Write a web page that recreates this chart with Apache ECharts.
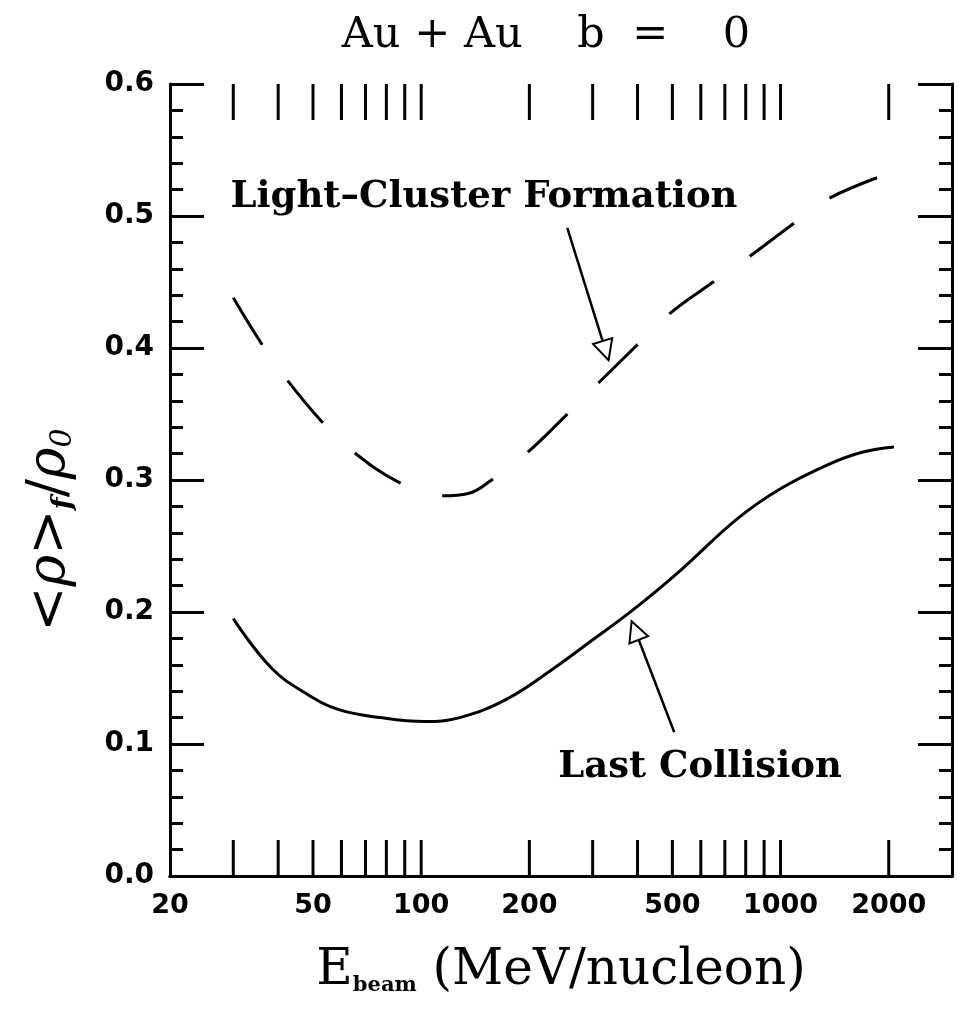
<!DOCTYPE html>
<html><head><meta charset="utf-8">
<script src="https://cdn.jsdelivr.net/npm/echarts@6/dist/echarts.min.js"></script>
<style>html,body{margin:0;padding:0;background:#fff}#c{width:966px;height:1020px}</style>
</head><body><div id="c"></div>
<script>
// ---- data ----
const energyLast = [30, 38.5, 48, 59, 77, 102, 128, 173, 233, 287, 386, 529, 753, 994, 1366, 1686, 2068];
const rhoLast    = [0.195, 0.157, 0.138, 0.126, 0.120, 0.117, 0.120, 0.134, 0.157, 0.175, 0.201, 0.232, 0.270, 0.293, 0.312, 0.321, 0.325];
const energyCluster = [30, 36, 42.3, 53, 65, 87, 113, 136, 157, 196, 253, 310, 398, 486, 642, 817, 1071, 1335, 1856];
const rhoCluster    = [0.438, 0.403, 0.376, 0.344, 0.321, 0.298, 0.288, 0.290, 0.300, 0.320, 0.349, 0.373, 0.402, 0.425, 0.449, 0.469, 0.493, 0.512, 0.529];
const xTickValues  = [30, 40, 50, 60, 70, 80, 90, 100, 200, 300, 400, 500, 600, 700, 800, 900, 1000, 2000];
const xLabelValues = [20, 50, 100, 200, 500, 1000, 2000];
const xMin = 20, xMax = 3000;
const yMin = 0, yMax = 0.6, yInterval = 0.1;
const titleText = 'Au + Au    b  =    0';
const labelCluster = 'Light\u2013Cluster Formation';
const labelLast = 'Last Collision';
// arrow annotations (data coordinates: [start, head])
const arrowCluster = [[255, 0.491], [326, 0.398]];
const arrowLast = [[506, 0.109], [394, 0.186]];

const chart = echarts.init(document.getElementById('c'), null, {renderer: 'canvas'});
const black = '#000';
const sansBold = '"DejaVu Sans", sans-serif';
const serif = '"DejaVu Serif", serif';

function arrowLine(pts) {
  return {
    silent: true, animation: false,
    symbol: ['none', 'emptyTriangle'], symbolSize: 20,
    lineStyle: {color: black, width: 2.5, type: 'solid'},
    label: {show: false},
    emphasis: {disabled: true},
    data: [[{coord: pts[0]}, {coord: pts[1]}]]
  };
}

const option = {
  backgroundColor: '#fff',
  animation: false,
  grid: {left: 170, right: 14, top: 84, bottom: 144},
  xAxis: [{
    type: 'log', min: xMin, max: xMax, position: 'bottom',
    axisLine: {show: true, lineStyle: {color: black, width: 3}},
    axisTick: {show: false}, axisLabel: {show: false}, splitLine: {show: false},
    name: '{n|E}{s|beam}{n| (MeV/nucleon)}', nameLocation: 'middle', nameGap: 60,
    nameTextStyle: {
      rich: {
        n: {fontFamily: serif, fontSize: 50, color: black, lineHeight: 60, verticalAlign: 'bottom'},
        s: {fontFamily: serif, fontWeight: 'bold', fontSize: 21, color: black, lineHeight: 20, verticalAlign: 'bottom'}
      }
    }
  }, {
    type: 'log', min: xMin, max: xMax, position: 'top',
    axisLine: {show: true, lineStyle: {color: black, width: 3}},
    axisTick: {show: false}, axisLabel: {show: false}, splitLine: {show: false}
  }],
  yAxis: [{
    type: 'value', min: yMin, max: yMax, interval: yInterval, position: 'left',
    axisLine: {show: true, lineStyle: {color: black, width: 3}},
    axisTick: {show: true, inside: true, length: 34, lineStyle: {color: black, width: 3}},
    minorTick: {show: true, splitNumber: 5, length: 13, lineStyle: {color: black, width: 3}},
    axisLabel: {show: true, margin: 16, color: black, fontFamily: sansBold, fontWeight: 'bold', fontSize: 28,
      formatter: v => v.toFixed(1)},
    splitLine: {show: false}
  }, {
    type: 'value', min: yMin, max: yMax, interval: yInterval, position: 'right',
    axisLine: {show: true, lineStyle: {color: black, width: 3}},
    axisTick: {show: true, inside: true, length: 34, lineStyle: {color: black, width: 3}},
    minorTick: {show: true, splitNumber: 5, length: 13, lineStyle: {color: black, width: 3}},
    axisLabel: {show: false}, splitLine: {show: false}
  }],
  graphic: [
    {type: 'text', x: 546, y: 36, style: {text: titleText, font: '43px ' + serif, fill: black, align: 'center', verticalAlign: 'middle'}},
    {type: 'text', x: 484, y: 197, style: {text: labelCluster, font: 'bold 37px ' + serif, fill: black, align: 'center', verticalAlign: 'middle'}},
    {type: 'text', x: 700, y: 767, style: {text: labelLast, font: 'bold 37px ' + serif, fill: black, align: 'center', verticalAlign: 'middle'}},
    {type: 'text', x: 46, y: 530, rotation: Math.PI / 2,
      style: {
        text: '{n|<}{i|\u03c1}{n|>}{f|f}{n|/}{i|\u03c1}{s|0}', align: 'center', verticalAlign: 'middle',
        rich: {
          n: {fontFamily: serif, fontSize: 54, fill: black, lineHeight: 64, verticalAlign: 'bottom'},
          i: {fontFamily: serif, fontStyle: 'italic', fontSize: 54, fill: black, lineHeight: 64, verticalAlign: 'bottom'},
          f: {fontFamily: serif, fontStyle: 'italic', fontWeight: 'bold', fontSize: 28, fill: black, lineHeight: 24, verticalAlign: 'bottom'},
          s: {fontFamily: serif, fontStyle: 'italic', fontSize: 30, fill: black, lineHeight: 24, verticalAlign: 'bottom'}
        }
      }}
  ],
  series: [
    {
      name: 'Last Collision', type: 'line', xAxisIndex: 0, yAxisIndex: 0,
      data: energyLast.map((e, i) => [e, rhoLast[i]]),
      smooth: 0.4, showSymbol: false, symbol: 'none',
      lineStyle: {color: black, width: 3, type: 'solid'},
      markLine: arrowLine(arrowLast)
    },
    {
      name: 'Light-Cluster Formation', type: 'line', xAxisIndex: 0, yAxisIndex: 0,
      data: energyCluster.map((e, i) => [e, rhoCluster[i]]),
      smooth: 0.4, showSymbol: false, symbol: 'none',
      lineStyle: {color: black, width: 3, type: [55, 44]},
      markLine: arrowLine(arrowCluster)
    },
    {
      name: 'xTicks', type: 'custom', xAxisIndex: 0, yAxisIndex: 0, clip: false, silent: true,
      data: xTickValues.map(v => [v, yMin]), encode: {x: 0, y: 1},
      renderItem: (params, api) => {
        const v = api.value(0);
        const b = api.coord([v, yMin]);
        const t = api.coord([v, yMax]);
        const len = 36;
        return {type: 'group', children: [
          {type: 'line', shape: {x1: b[0], y1: b[1], x2: b[0], y2: b[1] - len}, style: {stroke: black, lineWidth: 3}},
          {type: 'line', shape: {x1: t[0], y1: t[1], x2: t[0], y2: t[1] + len}, style: {stroke: black, lineWidth: 3}}
        ]};
      }
    },
    {
      name: 'xLabels', type: 'custom', xAxisIndex: 0, yAxisIndex: 0, clip: false, silent: true,
      data: xLabelValues.map(v => [v, yMin]), encode: {x: 0, y: 1},
      renderItem: (params, api) => {
        const v = api.value(0);
        const b = api.coord([v, yMin]);
        return {type: 'text', x: b[0], y: b[1] + 16,
          style: {text: String(v), font: 'bold 27px ' + sansBold, fill: black, align: 'center', verticalAlign: 'top'}};
      }
    }
  ]
};
chart.setOption(option);
</script>
</body></html>
